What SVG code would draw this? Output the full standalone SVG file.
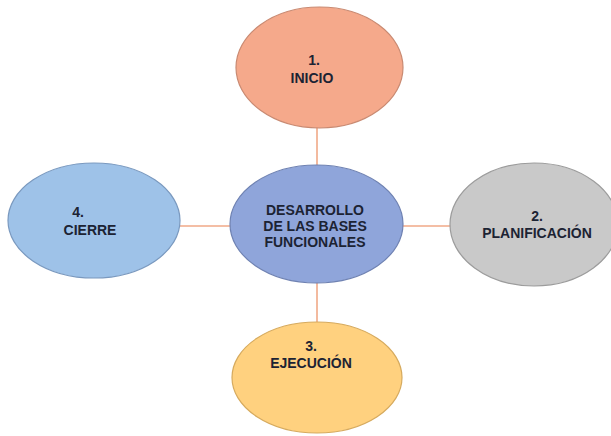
<svg xmlns="http://www.w3.org/2000/svg" width="611" height="436" viewBox="0 0 611 436">
<style>
.lbl{font-family:"Liberation Sans",Arial,sans-serif;font-weight:bold;font-size:14px;fill:#1c2333;text-anchor:middle}
.con{stroke:#f0a987;stroke-width:1.6;fill:none}
.nd{stroke-width:1.2}
</style>
<rect width="611" height="436" fill="#ffffff"/>
<g id="connectors">
<line class="con" x1="317" y1="127" x2="317" y2="166"/>
<line class="con" x1="317" y1="282" x2="317" y2="322"/>
<line class="con" x1="179" y1="226" x2="231" y2="226"/>
<line class="con" x1="402" y1="226" x2="451" y2="226"/>
</g>
<g id="inicio">
<ellipse class="nd" cx="319.5" cy="67.5" rx="83.5" ry="60.5" fill="#f5a98b" stroke="#c98a72"/>
<text class="lbl" x="314" y="65">1.</text>
<text class="lbl" x="312" y="83">INICIO</text>
</g>
<g id="centro">
<ellipse class="nd" cx="316.5" cy="224" rx="86.5" ry="59" fill="#8fa5da" stroke="#6f82b2"/>
<text class="lbl" x="315" y="215">DESARROLLO</text>
<text class="lbl" x="315" y="231">DE LAS BASES</text>
<text class="lbl" x="315" y="247">FUNCIONALES</text>
</g>
<g id="cierre">
<ellipse class="nd" cx="94" cy="220.5" rx="86" ry="57.5" fill="#9ec2e8" stroke="#7a99bf"/>
<text class="lbl" x="78" y="217">4.</text>
<text class="lbl" x="90" y="235">CIERRE</text>
</g>
<g id="planificacion">
<ellipse class="nd" cx="534" cy="224.5" rx="84" ry="61.5" fill="#c9c9c9" stroke="#9c9c9c"/>
<text class="lbl" x="537" y="221">2.</text>
<text class="lbl" x="537" y="238">PLANIFICACIÓN</text>
</g>
<g id="ejecucion">
<ellipse class="nd" cx="317" cy="377.5" rx="85" ry="55.5" fill="#ffd17f" stroke="#d6aa5e"/>
<text class="lbl" x="311" y="351">3.</text>
<text class="lbl" x="311" y="368">EJECUCIÓN</text>
</g>
</svg>
